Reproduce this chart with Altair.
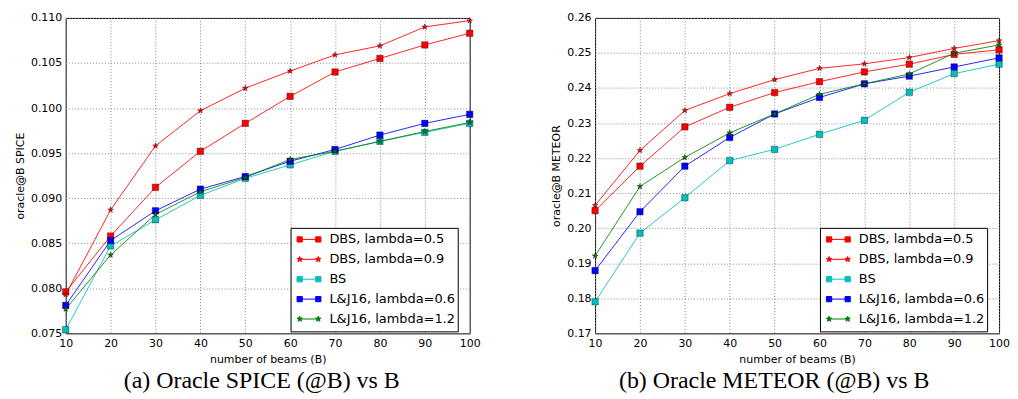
import math
import altair as alt
import pandas as pd

# ---------------- data ----------------
beams = [10, 20, 30, 40, 50, 60, 70, 80, 90, 100]
series_names = ["DBS, lambda=0.5", "DBS, lambda=0.9", "BS",
                "L&J16, lambda=0.6", "L&J16, lambda=1.2"]
series_colors = ["#ff0000", "#ff0000", "#00bfbf", "#0000ff", "#008000"]
series_markers = ["square", "star", "square", "square", "star"]

spice_dbs_05 = [0.0796, 0.0858, 0.0912, 0.0952, 0.0983, 0.1013, 0.1040, 0.1055, 0.1070, 0.1083]
spice_dbs_09 = [0.0793, 0.0887, 0.0958, 0.0997, 0.1022, 0.1041, 0.1059, 0.1069, 0.1090, 0.1097]
spice_bs = [0.0754, 0.0847, 0.0876, 0.0903, 0.0922, 0.0937, 0.0952, 0.0963, 0.0973, 0.0983]
spice_lj_06 = [0.0781, 0.0853, 0.0886, 0.0910, 0.0924, 0.0941, 0.0954, 0.0970, 0.0983, 0.0993]
spice_lj_12 = [0.0777, 0.0837, 0.0882, 0.0907, 0.0923, 0.0943, 0.0952, 0.0963, 0.0974, 0.0984]

meteor_dbs_05 = [0.2050, 0.2177, 0.2289, 0.2345, 0.2387, 0.2418, 0.2446, 0.2468, 0.2496, 0.2509]
meteor_dbs_09 = [0.2065, 0.2222, 0.2336, 0.2384, 0.2424, 0.2456, 0.2469, 0.2487, 0.2513, 0.2535]
meteor_bs = [0.1790, 0.1986, 0.2087, 0.2193, 0.2225, 0.2268, 0.2308, 0.2388, 0.2441, 0.2468]
meteor_lj_06 = [0.1879, 0.2047, 0.2177, 0.2259, 0.2326, 0.2373, 0.2412, 0.2434, 0.2460, 0.2486]
meteor_lj_12 = [0.1921, 0.2119, 0.2202, 0.2272, 0.2326, 0.2382, 0.2412, 0.2440, 0.2499, 0.2523]

spice_ticks = [0.075, 0.080, 0.085, 0.090, 0.095, 0.100, 0.105, 0.110]
meteor_ticks = [0.17, 0.18, 0.19, 0.20, 0.21, 0.22, 0.23, 0.24, 0.25, 0.26]


# ---------------- marker shapes ----------------
def star_path(cx, r_out, r_in):
    pts = []
    for i in range(10):
        ang = math.radians(-90 + 36 * i)
        r = r_out if i % 2 == 0 else r_in
        pts.append((cx + r * math.cos(ang), r * math.sin(ang)))
    return "M" + "L".join(f"{x:.3f},{y:.3f}" for x, y in pts) + "Z"


def square_path(cx, h):
    return f"M{cx - h:.3f},{-h:.3f}H{cx + h:.3f}V{h:.3f}H{cx - h:.3f}Z"


POINT_SHAPES = {"square": "square", "star": star_path(0, 0.95, 0.38)}
LEG_X = 0.78
LEGEND_SHAPES = {
    "square": f"M{-LEG_X},0H{LEG_X}" + square_path(-LEG_X, 0.22) + square_path(LEG_X, 0.22),
    "star": f"M{-LEG_X},0H{LEG_X}" + star_path(-LEG_X, 0.24, 0.1) + star_path(LEG_X, 0.24, 0.1),
}

FONT = "DejaVu Sans"


def panel(values, ydomain, yticks, yfmt, ytitle, caption, cap_dx, legend_x):
    rows = []
    for name, vals in zip(series_names, values):
        for b, v in zip(beams, vals):
            rows.append({"B": b, "value": v, "series": name})
    df = pd.DataFrame(rows)
    leg_df = pd.DataFrame({"series": series_names, "B": [None] * 5, "value": [None] * 5})

    x = alt.X("B:Q", scale=alt.Scale(domain=[10, 100], nice=False, zero=False),
              axis=alt.Axis(values=beams, title="number of beams (B)", labelFlush=False))
    y = alt.Y("value:Q", scale=alt.Scale(domain=ydomain, nice=False, zero=False),
              axis=alt.Axis(values=yticks, format=yfmt, title=ytitle, labelFlush=False))
    color = alt.Color("series:N", scale=alt.Scale(domain=series_names, range=series_colors),
                      legend=None)

    lines = alt.Chart(df).mark_line(strokeWidth=1, opacity=0.85).encode(
        x=x, y=y, color=color, detail="series:N")

    points = alt.Chart(df).mark_point(
        filled=True, opacity=1, stroke="black", strokeWidth=0.5, strokeOpacity=0.7, size=42
    ).encode(
        x=x, y=y, color=color,
        shape=alt.Shape("series:N",
                        scale=alt.Scale(domain=series_names,
                                        range=[POINT_SHAPES[m] for m in series_markers]),
                        legend=None),
    )

    leg_def = dict(title=None, labelExpr="datum.label + '    '",
                   orient="none", legendX=legend_x, legendY=211)
    legend = alt.Chart(leg_df).mark_point(filled=True, opacity=1, size=576, strokeWidth=1).encode(
        x=x, y=y,
        fill=alt.Fill("series:N", scale=alt.Scale(domain=series_names, range=series_colors),
                      legend=alt.Legend(**leg_def)),
        stroke=alt.Stroke("series:N", scale=alt.Scale(domain=series_names, range=series_colors),
                          legend=alt.Legend(**leg_def)),
        shape=alt.Shape("series:N",
                        scale=alt.Scale(domain=series_names,
                                        range=[LEGEND_SHAPES[m] for m in series_markers]),
                        legend=alt.Legend(**leg_def)),
    )

    return alt.layer(lines, points, legend).resolve_scale(
        shape="independent", fill="independent", stroke="independent"
    ).properties(
        width=406, height=317,
        title=alt.TitleParams(caption, orient="bottom", anchor="middle", font="Liberation Serif",
                              fontSize=24, fontWeight="normal", color="black", offset=5, dx=cap_dx),
    )


left = panel([spice_dbs_05, spice_dbs_09, spice_bs, spice_lj_06, spice_lj_12],
             [0.075, 0.110], spice_ticks, ".3f", "oracle@B SPICE",
             "(a) Oracle SPICE (@B) vs B", -6, 226)
right = panel([meteor_dbs_05, meteor_dbs_09, meteor_bs, meteor_lj_06, meteor_lj_12],
              [0.17, 0.26], meteor_ticks, ".2f", "oracle@B METEOR",
              "(b) Oracle METEOR (@B) vs B", -23, 226)

chart = alt.hconcat(left, right, spacing=70).properties(
    padding={"left": 6, "top": 2, "right": 0, "bottom": 0},
    background="white",
).configure_view(
    stroke="black", strokeWidth=1
).configure_axis(
    labelFont=FONT, labelFontSize=11, labelColor="black", labelPadding=4,
    titleFont=FONT, titleFontSize=11, titleFontWeight="normal", titleColor="black",
    titlePadding=5, ticks=False, domain=False, grid=True,
    gridColor="#888888", gridDash=[1, 2], gridWidth=1,
).configure_legend(
    padding=2, strokeColor="black", strokeWidth=1, fillColor="white", cornerRadius=0,
    labelFont=FONT, labelFontSize=13, labelColor="black", labelLimit=300,
    symbolSize=576, symbolStrokeWidth=1, symbolOpacity=1,
    clipHeight=19.2, rowPadding=0, labelOffset=8, symbolOffset=4,
)

chart.save("out.html", embed_options={"renderer": "svg", "actions": False})
